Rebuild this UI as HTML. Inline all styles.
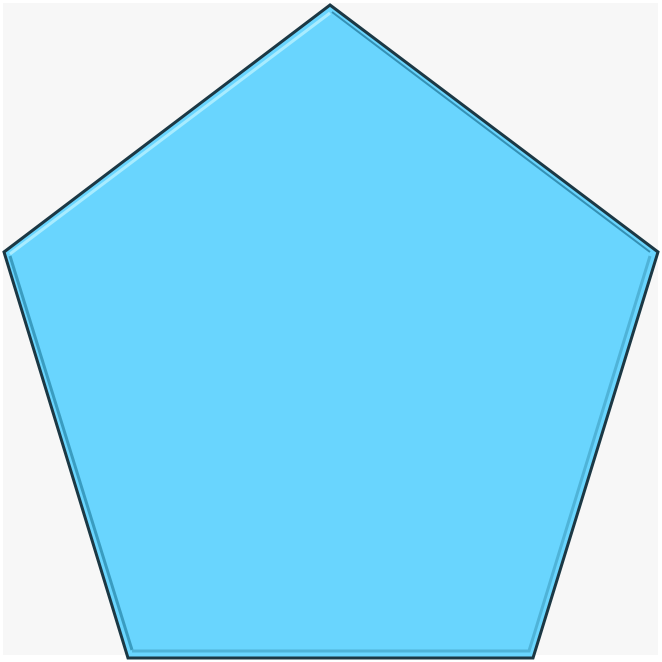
<!DOCTYPE html>
<html><head><meta charset="utf-8"><style>html,body{margin:0;padding:0;background:#fff}svg{display:block}</style></head>
<body>
<svg width="662" height="662" viewBox="0 0 662 662">
<rect x="3" y="3" width="655" height="652" fill="#f7f7f7"/>
<polygon points="330,5 658,252 533,658 128,658 4,252" fill="#69d5fe" stroke="#1c3844" stroke-width="3" stroke-linejoin="miter"/>
<polyline points="10,254 330,13" fill="none" stroke="#a8ecff" stroke-width="3"/>
<polyline points="10,256 132,650" fill="none" stroke="#3a9cc0" stroke-width="3"/>
<polyline points="132,651 529,651 650,256" fill="none" stroke="#4fb3d8" stroke-width="3"/>
<polyline points="332,12 650,252" fill="none" stroke="#3590b4" stroke-width="2"/>
</svg>
</body></html>
